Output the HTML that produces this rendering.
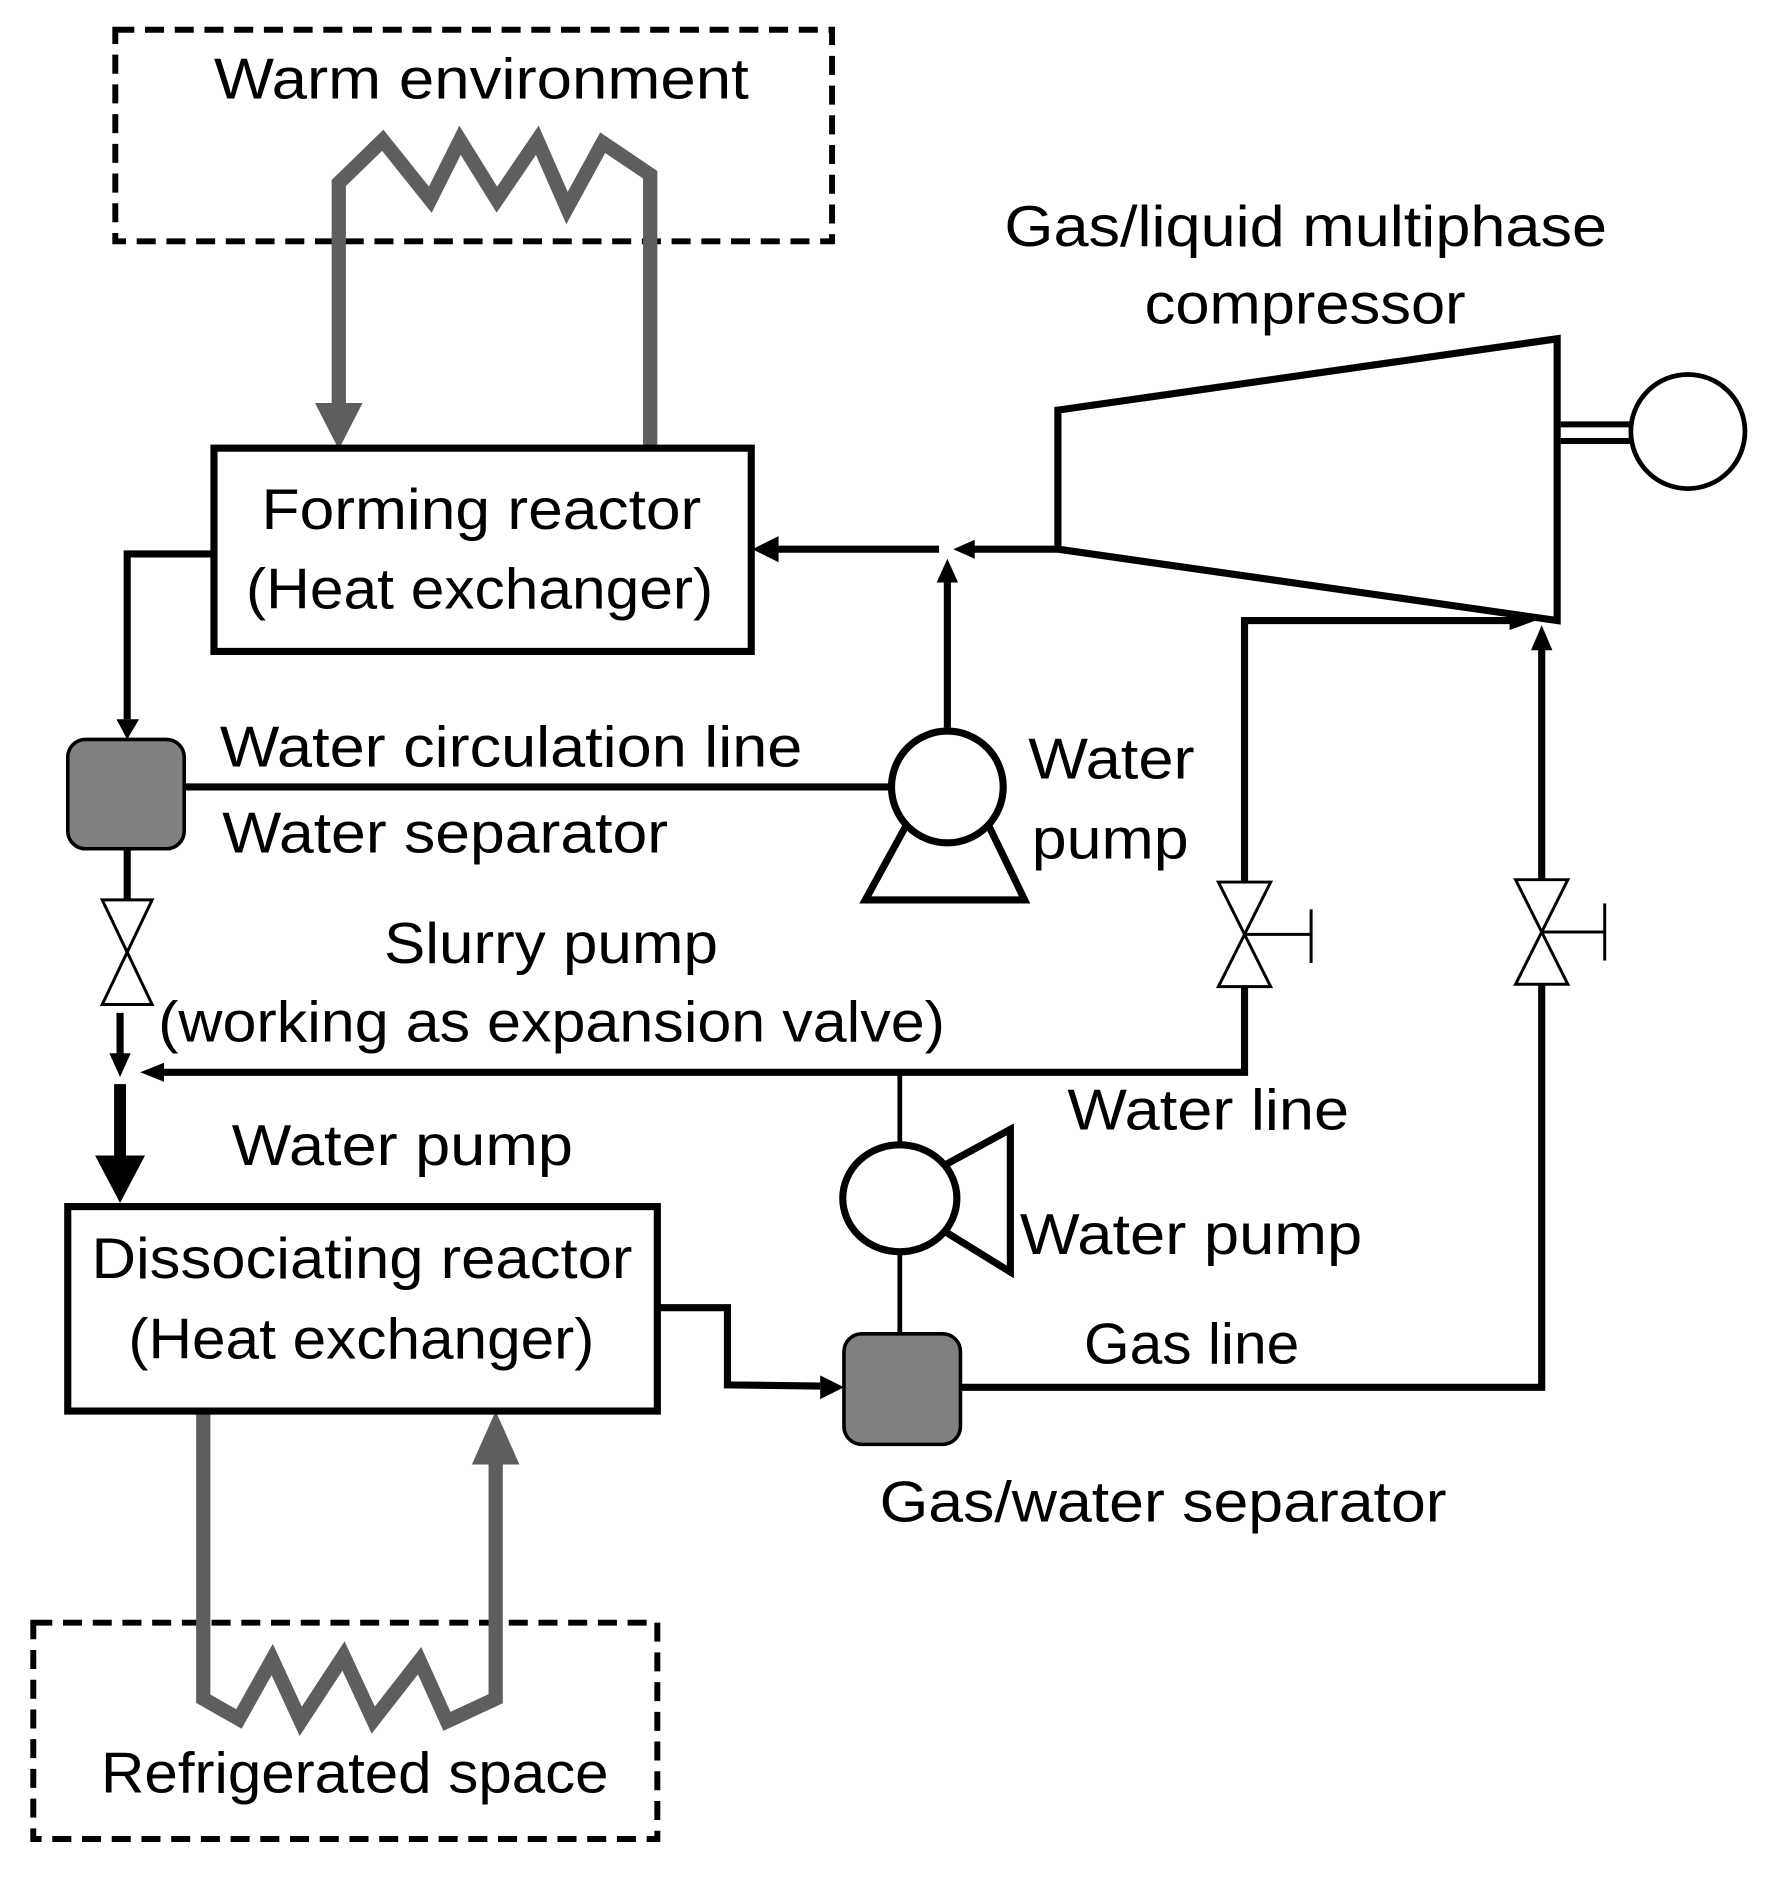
<!DOCTYPE html>
<html><head><meta charset="utf-8"><style>html,body{margin:0;padding:0;background:#fff}svg{display:block}</style></head>
<body>
<svg width="1783" height="1883" viewBox="0 0 1500 1584" preserveAspectRatio="none" xmlns="http://www.w3.org/2000/svg">
<g font-family="Liberation Sans, sans-serif" font-size="48" fill="#000">
<text x="180" y="83" textLength="450" lengthAdjust="spacingAndGlyphs">Warm environment</text>
<text x="845" y="207" textLength="507" lengthAdjust="spacingAndGlyphs">Gas/liquid multiphase</text>
<text x="963" y="272" textLength="270" lengthAdjust="spacingAndGlyphs">compressor</text>
<text x="220" y="445" textLength="370" lengthAdjust="spacingAndGlyphs">Forming reactor</text>
<text x="207" y="512" textLength="393" lengthAdjust="spacingAndGlyphs">(Heat exchanger)</text>
<text x="185" y="645" textLength="490" lengthAdjust="spacingAndGlyphs">Water circulation line</text>
<text x="187" y="717" textLength="375" lengthAdjust="spacingAndGlyphs">Water separator</text>
<text x="865" y="655" textLength="140" lengthAdjust="spacingAndGlyphs">Water</text>
<text x="868" y="722" textLength="132" lengthAdjust="spacingAndGlyphs">pump</text>
<text x="323" y="810" textLength="281" lengthAdjust="spacingAndGlyphs">Slurry pump</text>
<text x="133" y="876" textLength="662" lengthAdjust="spacingAndGlyphs">(working as expansion valve)</text>
<text x="898" y="950" textLength="237" lengthAdjust="spacingAndGlyphs">Water line</text>
<text x="195" y="980" textLength="287" lengthAdjust="spacingAndGlyphs">Water pump</text>
<text x="858" y="1055" textLength="288" lengthAdjust="spacingAndGlyphs">Water pump</text>
<text x="912" y="1147" textLength="181" lengthAdjust="spacingAndGlyphs">Gas line</text>
<text x="740" y="1280" textLength="477" lengthAdjust="spacingAndGlyphs">Gas/water separator</text>
<text x="77" y="1075" textLength="455" lengthAdjust="spacingAndGlyphs">Dissociating reactor</text>
<text x="108" y="1143" textLength="392" lengthAdjust="spacingAndGlyphs">(Heat exchanger)</text>
<text x="85" y="1508" textLength="427" lengthAdjust="spacingAndGlyphs">Refrigerated space</text>
</g>
<rect x="97" y="25" width="603" height="178" fill="none" stroke="#000" stroke-width="5" stroke-dasharray="16,9"/>
<rect x="28" y="1365" width="525" height="182" fill="none" stroke="#000" stroke-width="5" stroke-dasharray="16,9"/>
<g fill="none" stroke="#5e5e5e" stroke-width="12" stroke-linejoin="miter">
<polyline points="285,345 285,154 322,118 362,168 387,118 418,168 452,118 477,175 507,120 547,147 547,378"/>
<polyline points="171,1187 171,1429 201,1446 229,1396 253,1448 289,1393 314,1447 353,1397 376,1448 417,1429 417,1230"/>
</g>
<polygon points="265,339 305,339 285,378" fill="#5e5e5e"/>
<polygon points="397,1232 437,1232 417,1187" fill="#5e5e5e"/>
<rect x="180" y="377" width="452" height="171" fill="none" stroke="#000" stroke-width="6"/>
<rect x="57" y="1015" width="496" height="172" fill="none" stroke="#000" stroke-width="6"/>
<rect x="57" y="622" width="98" height="92" rx="15" fill="#808080" stroke="#000" stroke-width="3"/>
<rect x="710" y="1122" width="98" height="93" rx="15" fill="#808080" stroke="#000" stroke-width="3"/>
<polygon points="890,345 1310,285 1310,522 890,462" fill="none" stroke="#000" stroke-width="6"/>
<circle cx="1420" cy="363" r="48" fill="none" stroke="#000" stroke-width="4"/>
<line x1="1313" y1="357" x2="1372" y2="357" stroke="#000" stroke-width="5"/>
<line x1="1313" y1="371" x2="1372" y2="371" stroke="#000" stroke-width="5"/>
<g fill="none" stroke="#000" stroke-width="6">
<polyline points="180,466 107,466 107,605"/>
<line x1="155" y1="662" x2="750" y2="662"/>
<line x1="797" y1="612" x2="797" y2="488"/>
<line x1="890" y1="462" x2="818" y2="462"/>
<line x1="790" y1="462" x2="655" y2="462"/>
<polyline points="1047,742 1047,522 1272,522"/>
<line x1="1297" y1="740" x2="1297" y2="545"/>
<polyline points="1047,830 1047,902 138,902"/>
<polyline points="1297,828 1297,1167 808,1167"/>
<line x1="107" y1="714" x2="107" y2="757"/>
<line x1="101" y1="852" x2="101" y2="888"/>
<polyline points="553,1100 612,1100 612,1165 690,1166"/>
</g>
<line x1="101" y1="912" x2="101" y2="975" stroke="#000" stroke-width="10"/>
<polygon points="80,972 122,972 101,1012" fill="#000"/>
<polygon points="92,886 110,886 101,906" fill="#000"/>
<polygon points="98,605 117,605 107,622" fill="#000"/>
<polygon points="655,451 655,473 633,462" fill="#000"/>
<polygon points="820,454 820,470 802,462" fill="#000"/>
<polygon points="788,490 806,490 797,470" fill="#000"/>
<polygon points="1270,514 1270,530 1292,522" fill="#000"/>
<polygon points="1288,547 1306,547 1297,526" fill="#000"/>
<polygon points="138,894 138,910 118,902" fill="#000"/>
<polygon points="690,1157 690,1177 710,1167" fill="#000"/>
<g fill="none" stroke="#000" stroke-width="6">
<circle cx="797" cy="662" r="47"/>
<polyline points="762,695 728,757 862,757 832,695"/>
<ellipse cx="757" cy="1008" rx="48" ry="45"/>
<polyline points="795,980 850,950 850,1070 795,1036"/>
</g>
<line x1="757" y1="902" x2="757" y2="963" stroke="#000" stroke-width="4"/>
<line x1="757" y1="1053" x2="757" y2="1122" stroke="#000" stroke-width="4"/>
<g fill="#fff" stroke="#000" stroke-width="2.5">
<polygon points="86,757 128,757 107,801 128,845 86,845 107,801"/>
<polygon points="1025,742 1069,742 1047,786 1069,830 1025,830 1047,786"/>
<polygon points="1275,740 1319,740 1297,784 1319,828 1275,828 1297,784"/>
</g>
<g stroke="#000" stroke-width="2.5">
<line x1="1047" y1="786" x2="1103" y2="786"/><line x1="1103" y1="765" x2="1103" y2="810"/>
<line x1="1297" y1="784" x2="1350" y2="784"/><line x1="1350" y1="760" x2="1350" y2="808"/>
</g>
</svg>
</body></html>
